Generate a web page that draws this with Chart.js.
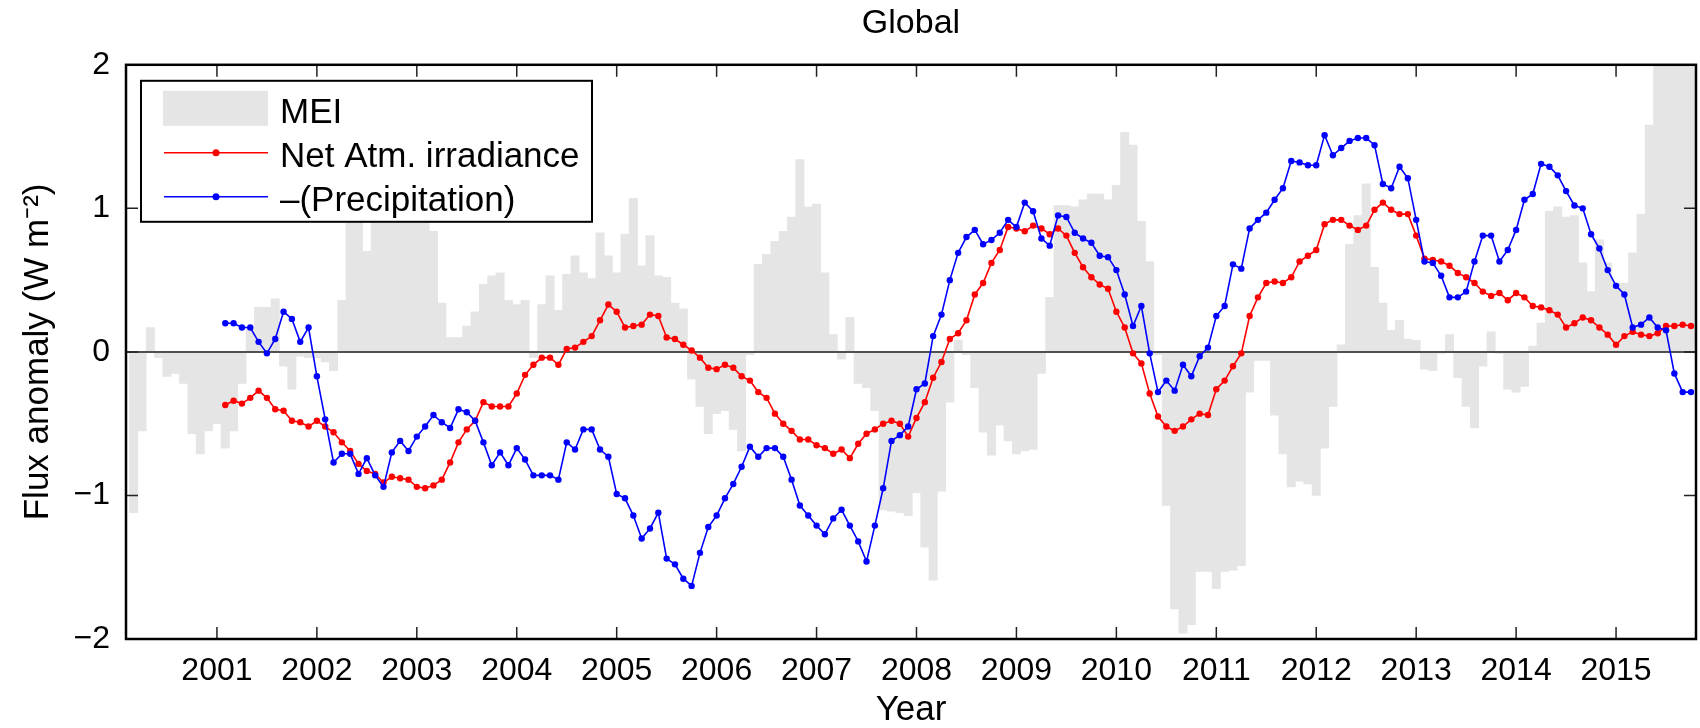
<!DOCTYPE html>
<html>
<head>
<meta charset="utf-8">
<script src="https://cdn.jsdelivr.net/npm/chart.js@4.4.0/dist/chart.umd.min.js"></script>
<style>
  html, body { margin: 0; padding: 0; background: #fff; }
</style>
</head>
<body>
<canvas id="chart" width="1700" height="728"></canvas>
<script>
const FONT = "'Liberation Sans', Arial, Helvetica, sans-serif";

// first month of each series as [year, month]
const meiStart = [2000, 2];
const lineStart = [2001, 1];

const yearTicks = [2001, 2002, 2003, 2004, 2005, 2006, 2007, 2008, 2009, 2010, 2011, 2012, 2013, 2014, 2015];

// MEI, monthly bars
const mei = [
  -1.12, -0.55, 0.17, -0.04, -0.17, -0.15, -0.22, -0.57, -0.71, -0.55,
  -0.50, -0.67, -0.55, -0.22, 0.17, 0.31, 0.31, 0.37, -0.10, -0.26,
  -0.03, -0.04, -0.04, -0.07, -0.13, 0.36, 0.95, 0.95, 0.70, 0.95,
  0.95, 0.95, 0.95, 0.95, 0.95, 0.95, 0.84, 0.34, 0.10, 0.10,
  0.18, 0.28, 0.47, 0.53, 0.55, 0.36, 0.33, 0.36, -0.04, 0.33,
  0.53, 0.29, 0.54, 0.67, 0.55, 0.51, 0.83, 0.67, 0.55, 0.82,
  1.07, 0.60, 0.81, 0.53, 0.52, 0.34, 0.30, -0.19, -0.38, -0.57,
  -0.43, -0.41, -0.54, -0.69, -0.02, 0.61, 0.68, 0.77, 0.84, 0.94,
  1.34, 1.01, 1.03, 0.55, 0.12, -0.05, 0.24, -0.22, -0.25, -0.41,
  -1.10, -1.11, -1.12, -1.14, -0.98, -1.36, -1.59, -0.97, -0.35, 0.08,
  -0.02, -0.25, -0.56, -0.72, -0.51, -0.62, -0.71, -0.69, -0.68, -0.15,
  0.38, 1.02, 1.02, 1.01, 1.06, 1.10, 1.10, 1.06, 1.16, 1.53,
  1.44, 0.91, 0.63, -0.02, -1.07, -1.79, -1.96, -1.90, -1.53, -1.53,
  -1.65, -1.53, -1.52, -1.49, -0.28, -0.06, -0.06, -0.44, -0.71, -0.94,
  -0.90, -0.92, -1.00, -0.67, -0.38, 0.05, 0.75, 0.95, 1.17, 0.59,
  0.34, 0.15, 0.22, 0.09, 0.08, -0.12, -0.13, -0.01, 0.12, -0.18,
  -0.38, -0.53, -0.10, 0.14, -0.01, -0.26, -0.28, -0.24, 0.04, 0.20,
  0.98, 1.01, 0.94, 0.95, 0.62, 0.42, 0.78, 0.62, 0.48, 0.48,
  0.69, 0.96, 1.58, 2.1, 2.2, 2.2, 2.3, 2.3
];

// Net atmospheric irradiance, monthly from Jan 2001
const netAtm = [
  -0.37, -0.34, -0.36, -0.32, -0.27, -0.32, -0.40, -0.41, -0.48, -0.49, -0.52, -0.48, -0.52,
  -0.56, -0.63, -0.69, -0.78, -0.83, -0.85, -0.91, -0.87, -0.88, -0.89, -0.94, -0.95,
  -0.93, -0.89, -0.77, -0.63, -0.54, -0.48, -0.35, -0.38, -0.38, -0.38, -0.29,
  -0.16, -0.09, -0.04, -0.04, -0.09, 0.02, 0.03, 0.07, 0.11, 0.22, 0.33, 0.28,
  0.17, 0.18, 0.19, 0.26, 0.25, 0.10, 0.09, 0.05, 0.01, -0.04, -0.11,
  -0.12, -0.09, -0.11, -0.17, -0.20, -0.28, -0.32, -0.43, -0.50, -0.55, -0.61, -0.61,
  -0.65, -0.67, -0.71, -0.68, -0.74, -0.64, -0.57, -0.54, -0.50, -0.48, -0.50, -0.59,
  -0.46, -0.35, -0.18, -0.07, 0.09, 0.13, 0.22, 0.40, 0.48, 0.62, 0.71, 0.87,
  0.86, 0.84, 0.88, 0.86, 0.82, 0.86, 0.81, 0.69, 0.59, 0.52, 0.47,
  0.44, 0.28, 0.17, -0.01, -0.08, -0.29, -0.45, -0.52, -0.55, -0.52, -0.47, -0.43,
  -0.44, -0.26, -0.20, -0.10, -0.01, 0.25, 0.38, 0.48, 0.49, 0.48, 0.52,
  0.63, 0.67, 0.71, 0.89, 0.92, 0.92, 0.88, 0.85, 0.88, 0.99, 1.04, 0.99,
  0.96, 0.96, 0.81, 0.65, 0.64, 0.63, 0.60, 0.55, 0.52, 0.48, 0.42, 0.39,
  0.41, 0.36, 0.41, 0.38, 0.32, 0.31, 0.29, 0.26, 0.17, 0.20, 0.24, 0.22,
  0.17, 0.12, 0.05, 0.11, 0.14, 0.12, 0.11, 0.13, 0.18, 0.18, 0.19, 0.18
];

// -(Precipitation), monthly from Jan 2001
const precip = [
  0.20, 0.20, 0.17, 0.17, 0.07, -0.01, 0.09, 0.28, 0.23, 0.07, 0.17, -0.17, -0.47,
  -0.77, -0.71, -0.71, -0.85, -0.74, -0.86, -0.94, -0.70, -0.62, -0.69, -0.59, -0.52,
  -0.44, -0.49, -0.53, -0.40, -0.42, -0.48, -0.63, -0.79, -0.70, -0.79, -0.67,
  -0.75, -0.86, -0.86, -0.86, -0.89, -0.63, -0.68, -0.54, -0.54, -0.68, -0.73, -0.99,
  -1.02, -1.14, -1.30, -1.23, -1.12, -1.44, -1.48, -1.58, -1.63, -1.40, -1.22,
  -1.14, -1.02, -0.92, -0.80, -0.66, -0.73, -0.67, -0.67, -0.73, -0.89, -1.07, -1.14,
  -1.21, -1.27, -1.16, -1.10, -1.21, -1.32, -1.46, -1.21, -0.95, -0.62, -0.58, -0.52,
  -0.26, -0.22, 0.11, 0.26, 0.50, 0.69, 0.80, 0.85, 0.75, 0.78, 0.83, 0.92,
  0.87, 1.04, 0.98, 0.79, 0.74, 0.95, 0.94, 0.83, 0.79, 0.76, 0.67,
  0.66, 0.57, 0.40, 0.18, 0.32, -0.01, -0.28, -0.20, -0.27, -0.09, -0.17, -0.03,
  0.03, 0.25, 0.32, 0.61, 0.58, 0.86, 0.92, 0.97, 1.06, 1.14, 1.33,
  1.32, 1.30, 1.30, 1.51, 1.37, 1.42, 1.47, 1.49, 1.49, 1.44, 1.17, 1.14,
  1.29, 1.21, 0.92, 0.63, 0.62, 0.53, 0.38, 0.38, 0.42, 0.63, 0.81, 0.81,
  0.63, 0.71, 0.85, 1.06, 1.10, 1.31, 1.29, 1.23, 1.12, 1.02, 1.00, 0.82,
  0.72, 0.57, 0.46, 0.40, 0.17, 0.19, 0.24, 0.17, 0.15, -0.15, -0.28, -0.28
];

const toYear = (start, i) => start[0] + (start[1] + i) / 12;
const asPoints = (start, vals) => vals.map((v, i) => ({ x: toYear(start, i), y: v }));

const meiColor = "#e5e5e5";

// zero line over the bars, matlab style box with inward ticks, and the legend
const frame = {
  id: "frame",
  afterDatasetDraw(chart, args) {
    if (args.index !== 0) return;
    const { ctx, chartArea: a, scales: { y } } = chart;
    const y0 = y.getPixelForValue(0);
    ctx.save();
    ctx.strokeStyle = "#505050";
    ctx.lineWidth = 2;
    ctx.beginPath();
    ctx.moveTo(a.left, y0);
    ctx.lineTo(a.right, y0);
    ctx.stroke();
    ctx.restore();
  },
  afterDraw(chart) {
    const { ctx, chartArea: a, scales: { x, y } } = chart;
    const t = 12;
    ctx.save();
    ctx.strokeStyle = "#222";
    ctx.lineWidth = 1.5;
    ctx.beginPath();
    yearTicks.forEach((v) => {
      const px = x.getPixelForValue(v);
      ctx.moveTo(px, a.bottom);
      ctx.lineTo(px, a.bottom - t);
      ctx.moveTo(px, a.top);
      ctx.lineTo(px, a.top + t);
    });
    y.ticks.forEach((tk) => {
      const py = y.getPixelForValue(tk.value);
      ctx.moveTo(a.left, py);
      ctx.lineTo(a.left + t, py);
      ctx.moveTo(a.right, py);
      ctx.lineTo(a.right - t, py);
    });
    ctx.stroke();
    ctx.strokeStyle = "#000";
    ctx.lineWidth = 2.5;
    ctx.strokeRect(a.left, a.top, a.right - a.left, a.bottom - a.top);

    // legend
    const lx = a.left + 15, ly = a.top + 16;
    ctx.fillStyle = "#fff";
    ctx.fillRect(lx, ly, 451, 141);
    ctx.lineWidth = 2;
    ctx.strokeRect(lx, ly, 451, 141);
    const ds = chart.data.datasets;
    ctx.fillStyle = meiColor;
    ctx.fillRect(lx + 22, ly + 10, 105, 35);
    [[ds[1], ly + 72], [ds[2], ly + 116]].forEach(([d, yy]) => {
      ctx.strokeStyle = d.borderColor;
      ctx.lineWidth = 1.6;
      ctx.beginPath();
      ctx.moveTo(lx + 23, yy);
      ctx.lineTo(lx + 127, yy);
      ctx.stroke();
      ctx.fillStyle = d.borderColor;
      ctx.beginPath();
      ctx.arc(lx + 75, yy, 3.5, 0, 2 * Math.PI);
      ctx.fill();
    });
    ctx.fillStyle = "#000";
    ctx.font = "35px " + FONT;
    ctx.textBaseline = "alphabetic";
    ctx.fillText(ds[0].label, lx + 139, ly + 42);
    ctx.fillText(ds[1].label, lx + 139, ly + 86);
    ctx.fillText(ds[2].label, lx + 139, ly + 130);
    ctx.restore();
  },
};

new Chart(document.getElementById("chart"), {
  type: "bar",
  data: {
    datasets: [
      {
        label: "MEI",
        data: asPoints(meiStart, mei),
        backgroundColor: meiColor,
        borderWidth: 0,
        barPercentage: 1,
        categoryPercentage: 1,
        order: 3,
      },
      {
        type: "line",
        label: "Net Atm. irradiance",
        data: asPoints(lineStart, netAtm),
        borderColor: "#ff0000",
        backgroundColor: "#ff0000",
        borderWidth: 1.6,
        pointRadius: 3.2,
        pointBorderWidth: 0,
        tension: 0,
        order: 2,
      },
      {
        type: "line",
        label: "\u2013(Precipitation)",
        data: asPoints(lineStart, precip),
        borderColor: "#0000ff",
        backgroundColor: "#0000ff",
        borderWidth: 1.6,
        pointRadius: 3.2,
        pointBorderWidth: 0,
        tension: 0,
        order: 1,
      },
    ],
  },
  options: {
    responsive: false,
    animation: false,
    devicePixelRatio: 1,
    layout: { padding: 0 },
    plugins: {
      legend: { display: false },
      tooltip: { enabled: false },
      title: {
        display: true,
        text: "Global",
        fullSize: false,
        color: "#000",
        font: { family: FONT, size: 34, weight: "normal" },
        padding: { top: 3, bottom: 21 },
      },
    },
    scales: {
      x: {
        type: "linear",
        min: 2000.09,
        max: 2015.8,
        offset: false,
        grid: { display: false, drawTicks: false },
        border: { display: false },
        afterBuildTicks: (s) => {
          s.ticks = yearTicks.map((v) => ({ value: v }));
        },
        afterFit: (s) => {
          s.height = 89;
        },
        ticks: {
          color: "#000",
          font: { family: FONT, size: 32 },
          padding: 13,
          maxRotation: 0,
          autoSkip: false,
          callback: (v) => String(v),
        },
        title: {
          display: true,
          text: "Year",
          color: "#000",
          font: { family: FONT, size: 35, lineHeight: 1 },
          padding: 0,
        },
      },
      y: {
        min: -2,
        max: 2,
        grid: { display: false, drawTicks: false },
        border: { display: false },
        afterFit: (s) => {
          s.width = 126;
        },
        ticks: {
          stepSize: 1,
          color: "#000",
          font: { family: FONT, size: 32 },
          padding: 16,
          callback: (v) => String(v).replace("-", "\u2212"),
        },
        title: {
          display: true,
          text: "Flux anomaly (W m\u207B\u00B2)",
          color: "#000",
          font: { family: FONT, size: 35 },
          padding: { top: 17, bottom: 0 },
        },
      },
    },
  },
  plugins: [frame],
});
</script>
</body>
</html>
